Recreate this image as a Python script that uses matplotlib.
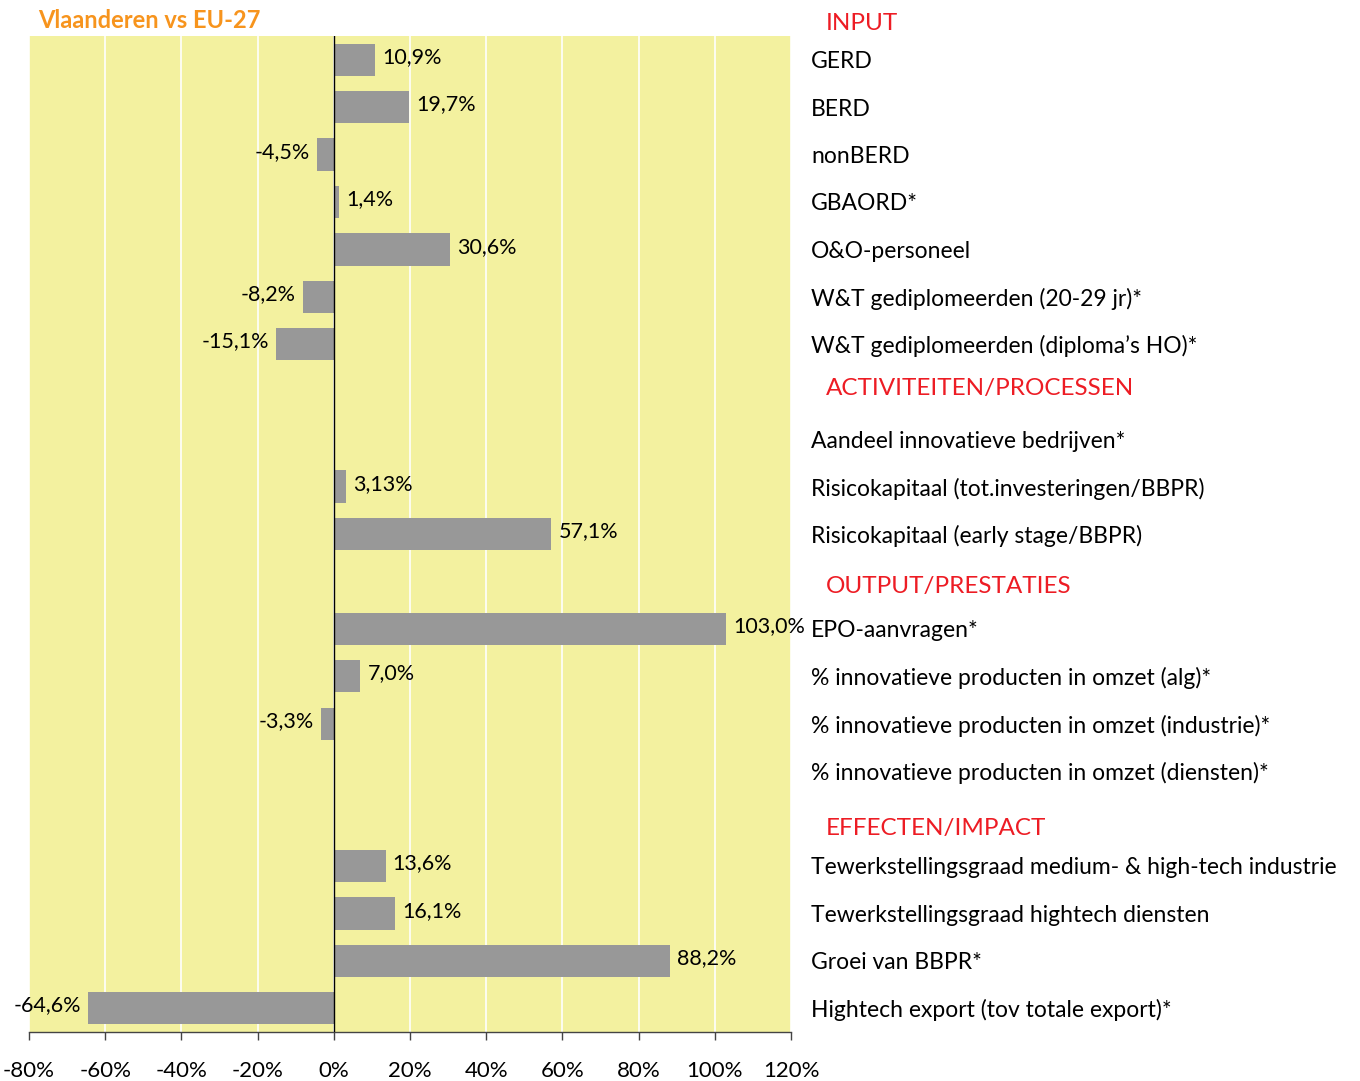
import matplotlib
matplotlib.use("Agg")
import matplotlib.pyplot as plt
import numpy as np

plt.rcParams['font.family'] = ['Lato', 'DejaVu Sans']

categories = [
    "GERD", "BERD", "nonBERD", "GBAORD*", "O&O-personeel",
    "W&T gediplomeerden (20-29 jr)*", "W&T gediplomeerden (diploma\u2019s HO)*",
    "", "Aandeel innovatieve bedrijven*",
    "Risicokapitaal (tot.investeringen/BBPR)", "Risicokapitaal (early stage/BBPR)",
    "", "EPO-aanvragen*",
    "% innovatieve producten in omzet (alg)*",
    "% innovatieve producten in omzet (industrie)*",
    "% innovatieve producten in omzet (diensten)*",
    "", "Tewerkstellingsgraad medium- & high-tech industrie",
    "Tewerkstellingsgraad hightech diensten", "Groei van BBPR*",
    "Hightech export (tov totale export)*",
]
values = [10.9, 19.7, -4.5, 1.4, 30.6, -8.2, -15.1,
          None, None, 3.13, 57.1,
          None, 103.0, 7.0, -3.3, None,
          None, 13.6, 16.1, 88.2, -64.6]
value_labels = ["10,9%", "19,7%", "-4,5%", "1,4%", "30,6%", "-8,2%", "-15,1%",
                "", "", "3,13%", "57,1%",
                "", "103,0%", "7,0%", "-3,3%", "",
                "", "13,6%", "16,1%", "88,2%", "-64,6%"]
headers = ["INPUT", "ACTIVITEITEN/PROCESSEN", "OUTPUT/PRESTATIES", "EFFECTEN/IMPACT"]
header_y_px = [24, 388, 587, 828]
xticks = [-80, -60, -40, -20, 0, 20, 40, 60, 80, 100, 120]

W, H = 1360, 1081
fig = plt.figure(figsize=(W / 100, H / 100), dpi=100)
ax = fig.add_axes([29 / W, 1 - 1032 / H, (791 - 29) / W, (1032 - 36) / H])
ax.set_facecolor('#F3F19F')

y = np.arange(len(categories))
for i, (v, lab) in enumerate(zip(values, value_labels)):
    if v is None:
        continue
    ax.barh(i, v, height=0.68, color='#989898', zorder=3)
    if v >= 0:
        ax.annotate(lab, xy=(v, i), xytext=(5, 2), textcoords='offset points',
                    ha='left', va='center', fontsize=15.5, zorder=5)
    else:
        ax.annotate(lab, xy=(v, i), xytext=(-5, 2), textcoords='offset points',
                    ha='right', va='center', fontsize=15.5, zorder=5)

ax.axvline(0, color='black', lw=1.0, zorder=4)
ax.set_xlim(-80, 120)
ax.set_ylim(len(categories) - 0.5, -0.5)
ax.set_xticks(xticks)
ax.set_xticklabels([f"{t}%" for t in xticks], fontsize=16)
ax.xaxis.grid(True, color='white', lw=1.2, zorder=1)
ax.set_axisbelow(True)

ax.set_yticks(y)
ax.set_yticklabels(categories, fontsize=16.5)
ax.yaxis.tick_right()
ax.tick_params(axis='y', length=0, pad=14.5)
ax.tick_params(axis='x', length=6, width=1, color='#444444', pad=15)

for s in ['top', 'left', 'right']:
    ax.spines[s].set_visible(False)
ax.spines['bottom'].set_color('#444444')
ax.spines['bottom'].set_linewidth(1)

for h, py in zip(headers, header_y_px):
    fig.text(826 / W, 1 - py / H, h, color='#ED1C24', fontsize=17.5,
             ha='left', va='center')

fig.text(38 / W, 1 - 20 / H, "Vlaanderen vs EU-27", color='#F7941D',
         fontsize=17, fontweight='bold', ha='left', va='center')

fig.savefig('out.png', dpi=100)
